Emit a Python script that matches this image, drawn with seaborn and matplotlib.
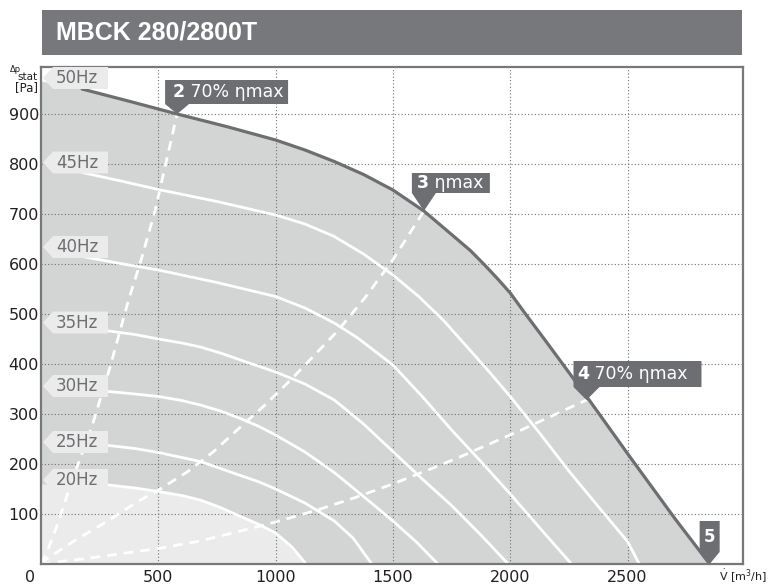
import numpy as np
import pandas as pd
import seaborn as sns
import matplotlib.pyplot as plt
import matplotlib.transforms as mtransforms
from matplotlib.patches import Polygon, Rectangle

# fan curves: V in m3/h, p in Pa
hz50_v = [0, 175, 380, 580, 790, 1000, 1125, 1250, 1375, 1500, 1632, 1760, 1830, 1889, 1945, 2000,
          2070, 2145, 2338, 2509, 2700, 2850]
hz50_p = [966, 950, 925, 900, 875, 848, 828, 805, 779, 748, 706, 655, 627, 599, 571, 542,
          497, 450, 327, 215, 92, 0]
hz45_v = [175, 350, 500, 750, 1000, 1125, 1250, 1375, 1500, 1610, 1714, 1790, 1900, 2000,
          2125, 2250, 2375, 2500, 2550]
hz45_p = [783, 765, 749, 725, 698, 680, 655, 620, 578, 535, 488, 448, 390, 335,
          262, 186, 115, 45, 0]
hz40_v = [175, 350, 500, 750, 1000, 1125, 1250, 1350, 1500, 1625, 1750, 1875, 2000, 2130, 2261]
hz40_p = [615, 600, 588, 563, 535, 512, 482, 452, 398, 335, 268, 205, 140, 70, 0]
hz35_v = [175, 288, 400, 501, 600, 679, 765, 850, 1000, 1125, 1250, 1375, 1500, 1625, 1750,
          1875, 1991]
hz35_p = [468, 466, 459, 450, 442, 434, 422, 408, 384, 360, 328, 280, 225, 170, 117,
          58, 0]
hz30_v = [175, 288, 400, 501, 600, 679, 765, 850, 925, 1000, 1125, 1250, 1375, 1500, 1600, 1692]
hz30_p = [346, 345, 340, 335, 327, 318, 306, 291, 276, 258, 224, 183, 135, 86, 44, 0]
hz25_v = [175, 288, 400, 501, 600, 679, 765, 850, 925, 1000, 1125, 1250, 1330, 1410]
hz25_p = [238, 237, 231, 223, 213, 205, 191, 177, 165, 150, 122, 86, 52, 0]
hz20_v = [0, 175, 288, 400, 501, 600, 679, 765, 850, 925, 1000, 1070, 1130]
hz20_p = [160, 160, 158, 152, 145, 137, 128, 113, 95, 80, 62, 34, 0]

# efficiency lines (dashed)
eta2_v = [0, 24, 67, 131, 217, 295, 373, 423, 487, 580]
eta2_p = [0, 22, 75, 165, 275, 395, 528, 602, 708, 900]
eta3_v = [0, 24, 137, 281, 409, 501, 623, 736, 836, 950, 1064, 1264, 1380, 1499, 1632]
eta3_p = [0, 10, 45, 85, 124, 148, 184, 225, 268, 316, 368, 466, 532, 608, 706]
eta4_v = [0, 209, 501, 679, 850, 1000, 1178, 1340, 1499, 1650, 1790, 2047, 2325]
eta4_p = [0, 12, 31, 46, 66, 84, 108, 133, 160, 188, 215, 268, 328]

hz_names = ["50Hz", "45Hz", "40Hz", "35Hz", "30Hz", "25Hz", "20Hz"]
hz_label_p = [972, 803, 634, 483, 356, 244, 168]
x_ticks = [500, 1000, 1500, 2000, 2500]
y_ticks = [100, 200, 300, 400, 500, 600, 700, 800, 900]

DARK = "#6d6e71"
FILL = "#d3d4d4"
LIGHT = "#ebebeb"
INK = "#231f20"

sns.set_style("white")
plt.rcParams["font.family"] = ["DejaVu Sans"]

fig = plt.figure(figsize=(7.68, 5.85), dpi=100)
ax = fig.add_axes([41 / 768, 1 - 564 / 585, 701.5 / 768, 497.5 / 585])
ax.set_xlim(0, 2990)
ax.set_ylim(0, 995)

ax.fill_between(hz50_v, hz50_p, 0, color=FILL, lw=0, zorder=0.2)
ax.fill_between(hz20_v, hz20_p, 0, color=LIGHT, lw=0, zorder=0.3)

# speed curves
speeds = [(hz45_v, hz45_p), (hz40_v, hz40_p), (hz35_v, hz35_p),
          (hz30_v, hz30_p), (hz25_v, hz25_p), (hz20_v[1:], hz20_p[1:])]
curves = pd.concat([pd.DataFrame({"V": v, "p": p, "curve": hz_names[i + 1]})
                    for i, (v, p) in enumerate(speeds)], ignore_index=True)
sns.lineplot(data=curves, x="V", y="p", hue="curve",
             palette={n: "white" for n in hz_names[1:]}, sort=False,
             estimator=None, legend=False, linewidth=2, ax=ax, zorder=2)

for v, p in [(eta2_v, eta2_p), (eta3_v, eta3_p), (eta4_v, eta4_p)]:
    sns.lineplot(x=v, y=p, color="white", linewidth=2, linestyle=(0, (3.5, 2.5)),
                 sort=False, estimator=None, ax=ax, zorder=2.2)

sns.lineplot(x=hz50_v[1:], y=hz50_p[1:], color=DARK, linewidth=2.3,
             sort=False, estimator=None, ax=ax, zorder=2.5)

ax.set_xlabel("")
ax.set_ylabel("")
ax.set_axisbelow(True)
ax.grid(True, color="#707070", lw=0.8, linestyle=(0, (1, 2)))
ax.set_xticks(x_ticks)
ax.set_yticks(y_ticks)
ax.set_xticklabels([str(t) for t in x_ticks], fontsize=11.5, color=INK)
ax.set_yticklabels([str(t) for t in y_ticks], fontsize=11.5, color=INK)
ax.tick_params(length=0, pad=1.5)
ax.tick_params(axis="x", pad=4.5)
for s in ax.spines.values():
    s.set_color("#77787b")
    s.set_linewidth(1.6)
    s.set_visible(True)


def px_trans(x, y):
    # pixel offsets (y downwards) around a data point
    return mtransforms.Affine2D().scale(1, -1) + mtransforms.ScaledTranslation(x, y, ax.transData)


# frequency labels
for name, yp in zip(hz_names, hz_label_p):
    t = px_trans(0, yp)
    ax.add_patch(Polygon([(2, 0), (12, -11), (67, -11), (67, 11), (12, 11)],
                         closed=True, fc=LIGHT, ec="none", transform=t,
                         zorder=3, clip_on=False))
    ax.text(15, 0, name, transform=t, fontsize=12, color=DARK,
            ha="left", va="center", zorder=3.1)

# operating point markers
marks = [
    (eta2_v[-1], eta2_p[-1], "2", " 70% \u03b7max", (-12, 111, -34, -10, -12, 12), -4),
    (eta3_v[-1], eta3_p[-1], "3", " \u03b7max", (-12, 66, -38, -18, -12, 12), -7),
    (eta4_v[-1], eta4_p[-1], "4", " 70% \u03b7max", (-13, 115, -39, -13, -13, 13), -9),
    (hz50_v[-1], hz50_p[-1], "5", "", (-10, 10, -43, -12, -10, 10), None),
]
for vx, vy, num, txt, (l, r, top, bot, b0, b1), tx in marks:
    t = px_trans(vx, vy)
    ax.add_patch(Polygon([(l, top), (r, top), (r, bot), (b1, bot), (0, 0), (b0, bot)],
                         closed=True, fc=DARK, ec="none", transform=t,
                         zorder=4, clip_on=False))
    ym = (top + bot) / 2
    if tx is None:
        ax.text(0, ym, num, transform=t, fontsize=12, color="white",
                fontweight="bold", ha="center", va="center", zorder=4.1)
    else:
        tn = ax.text(tx, ym, num, transform=t, fontsize=12.5, color="white",
                     fontweight="bold", ha="left", va="center", zorder=4.1)
        ax.annotate(txt, xy=(1, 0.5), xycoords=tn, fontsize=12.5, color="white",
                    ha="left", va="center", zorder=4.1)

# axis captions
fig.text(30 / 768, 1 - 577 / 585, "0", fontsize=11.5, color=INK,
         ha="center", va="center")
fig.text(767 / 768, 1 - 576 / 585, r"$\dot{\mathrm{V}}$ [m$^3$/h]", fontsize=8,
         color=INK, ha="right", va="center")
fig.text(15 / 768, 1 - 70 / 585, "\u0394p", fontsize=6, color=INK,
         ha="center", va="center")
fig.text(38 / 768, 1 - 77 / 585, "stat", fontsize=7.5, color=INK,
         ha="right", va="center")
fig.text(38 / 768, 1 - 88 / 585, "[Pa]", fontsize=8.5, color=INK,
         ha="right", va="center")

# title banner
fig.add_artist(Rectangle((42 / 768, 1 - 55 / 585), 700 / 768, 45 / 585,
                         transform=fig.transFigure, color="#77787b", lw=0))
fig.text(56 / 768, 1 - 33 / 585, "MBCK 280/2800T", fontsize=18,
         family=["Liberation Sans", "DejaVu Sans"], fontweight="bold",
         color="white", ha="left", va="center")

fig.savefig("out.png", dpi=100)
